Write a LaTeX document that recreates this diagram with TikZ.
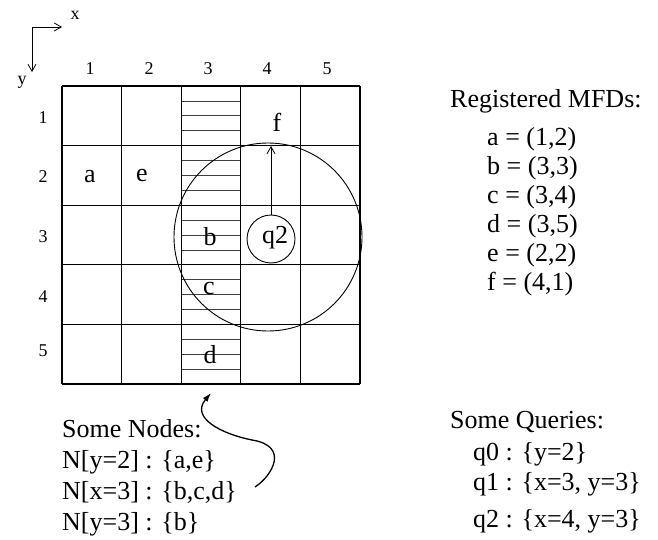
\documentclass[tikz,border=0pt]{standalone}
\usepackage{fontspec}
\setmainfont{Liberation Serif}
\usetikzlibrary{arrows.meta}
\begin{document}
\begin{tikzpicture}[x=1pt,y=-1pt,
  gridline/.style={line width=1.1pt},
  hatch/.style={line width=0.7pt, black!75},
  circ/.style={line width=0.9pt},
  lbl/.style={font=\fontsize{26}{31}\selectfont, inner sep=0},
  num/.style={font=\fontsize{18}{22}\selectfont, inner sep=0},
  txt/.style={font=\fontsize{26}{31}\selectfont, inner sep=0, anchor=base west},
  barb/.style={-{Straight Barb[length=7pt,width=8pt]}, line width=0.8pt}
  ]
\useasboundingbox (0,0) rectangle (658,540);
% hatching in column 3
\foreach \k in {1,...,19} {
  \draw[hatch] (181.2,{86+14.9*\k}) -- (240.8,{86+14.9*\k});
}
% grid
\foreach \i in {0,...,5} {
  \draw[gridline] ({62+59.6*\i},86) -- ({62+59.6*\i},384);
  \draw[gridline] (62,{86+59.6*\i}) -- (360,{86+59.6*\i});
}
% axes
\coordinate (o) at (32,27);
\coordinate (xe) at (62,27);
\coordinate (ye) at (32,72);
\draw[barb] (o) -- (xe);
\draw[barb] (o) -- (ye);
\node[num] (xl) at (75,15) {x};
\node[num] (yl) at (22,82) {y};
% column numbers
\node[num] (c1) at (90,69) {1};
\node[num] (c2) at (149,69) {2};
\node[num] (c3) at (208,69) {3};
\node[num] (c4) at (267,69) {4};
\node[num] (c5) at (327,69) {5};
% row numbers
\node[num] (r1) at (43,118) {1};
\node[num] (r2) at (43,177) {2};
\node[num] (r3) at (43,237) {3};
\node[num] (r4) at (43,297) {4};
\node[num] (r5) at (43,351) {5};
% cell labels
\node[lbl] (a) at (90,177) {a};
\node[lbl] (e) at (142,176) {e};
\node[lbl] (f) at (277,122) {f};
\node[lbl] (b) at (210,237) {b};
\node[lbl] (c) at (209,288) {c};
\node[lbl] (d) at (210,355) {d};
% query range circle
\draw[circ] (268,237) circle[radius=94pt];
\node[circle, draw, circ, minimum size=48pt, inner sep=0] (q2) at (271,239) {};
\node[lbl] (q2t) at (275,238) {q2};
\coordinate (ftip) at (271,146);
\draw[barb] (q2.north) -- (ftip);
% curved arrow
\coordinate (cs) at (255,487);
\coordinate (ct) at (211,393);
\draw[line width=1.3pt, -{Latex[length=9pt,width=6pt]}] (cs) .. controls (272,476) and (290,446) .. (252,440) .. controls (222,434) and (190,418) .. (ct);
% nodes text
\node[txt] (t1) at (62,437) {Some Nodes:};
\node[txt] (t2) at (62,468) {N[y=2] : \{a,e\}};
\node[txt] (t3) at (62,499) {N[x=3] : \{b,c,d\}};
\node[txt] (t4) at (62,530) {N[y=3] : \{b\}};
% registered MFDs
\node[txt] (m0) at (450,108) {Registered MFDs:};
\node[txt] (m1) at (487,146) {a = (1,2)};
\node[txt] (m2) at (487,175) {b = (3,3)};
\node[txt] (m3) at (487,204) {c = (3,4)};
\node[txt] (m4) at (487,232) {d = (3,5)};
\node[txt] (m5) at (487,261) {e = (2,2)};
\node[txt] (m6) at (487,290) {f = (4,1)};
% queries
\node[txt] (s0) at (450,428) {Some Queries:};
\node[txt] (s1) at (473,460) {q0 : \{y=2\}};
\node[txt] (s2) at (473,490) {q1 : \{x=3, y=3\}};
\node[txt] (s3) at (473,527) {q2 : \{x=4, y=3\}};
\end{tikzpicture}
\end{document}
